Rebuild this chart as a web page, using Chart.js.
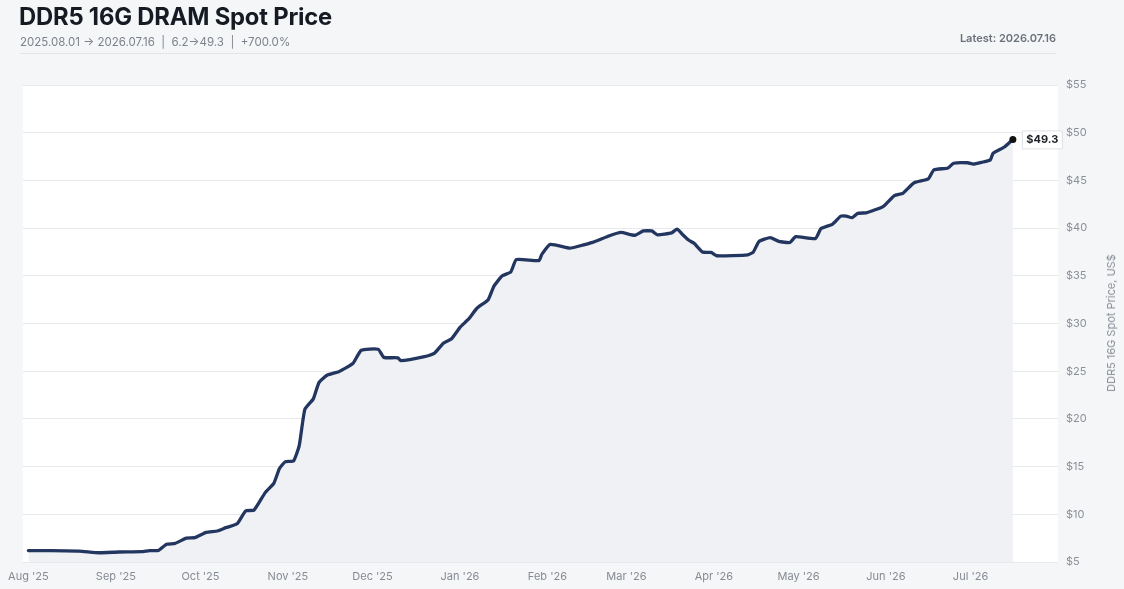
<!DOCTYPE html>
<html><head><meta charset="utf-8">
<script src="https://cdn.jsdelivr.net/npm/chart.js@4.4.1/dist/chart.umd.min.js"></script>
<style>
html,body{margin:0;padding:0;background:#f5f6f8;width:1124px;height:589px;overflow:hidden;font-family:Inter,"Noto Sans",sans-serif;}
#wrap{position:relative;width:1124px;height:589px;}
canvas{position:absolute;left:0;top:0;}
.t{position:absolute;white-space:nowrap;}
#title{left:19px;top:5px;font-size:23.8px;line-height:24px;font-weight:700;color:#151a23;letter-spacing:-0.2px}
#sub{left:20px;top:36px;font-size:11.5px;line-height:12px;color:#7c828b}
#latest{right:68px;top:33px;font-size:11px;line-height:11px;font-weight:600;color:#6b717a}
#sep{position:absolute;left:20px;top:53px;width:1036px;height:1px;background:#e2e4e8}
#ytitle{position:absolute;left:1111px;top:323px;transform:translate(-50%,-50%) rotate(-90deg);font-size:11px;color:#8a8f97}
</style>
</head>
<body>
<div id="wrap">
<canvas id="c" width="1124" height="589"></canvas>
<div class="t" id="title">DDR5 16G DRAM Spot Price</div>
<div class="t" id="sub">2025.08.01 → 2026.07.16 &nbsp;|&nbsp; 6.2→49.3 &nbsp;|&nbsp; +700.0%</div>
<div class="t" id="latest">Latest: 2026.07.16</div>
<div id="sep"></div>
<div class="t" id="ytitle">DDR5 16G Spot Price, US$</div>
</div>
<script>
// days since 2025-08-01
const days = [0,8,18,25,32,40,43,46,49,52,56,59,63,67,70,74,77,80,84,87,89,91,94,96,98,101,103,106,110,115,118,124,126,131,132,140,144,147,150,153,156,159,163,165,168,171,173,181,182,185,192,195,200,206,210,215,218,221,223,228,230,232,234,236,239,242,244,255,257,259,263,266,270,272,279,281,285,288,290,292,294,297,299,303,307,310,314,319,321,326,328,333,335,338,341,342,346,349];
// spot price, US$
const prices = [6.2,6.2,6.15,5.97,6.05,6.08,6.2,6.2,6.85,6.95,7.5,7.55,8.1,8.25,8.6,9.0,10.35,10.45,12.3,13.25,14.8,15.5,15.6,17.2,21.0,22.1,23.8,24.6,24.95,25.8,27.2,27.3,26.45,26.4,26.1,26.5,26.9,27.9,28.4,29.6,30.45,31.6,32.5,33.9,35.0,35.4,36.7,36.6,37.25,38.3,37.9,38.1,38.5,39.2,39.55,39.25,39.7,39.7,39.3,39.5,39.9,39.3,38.75,38.4,37.5,37.45,37.1,37.2,37.5,38.6,39.0,38.6,38.5,39.1,38.9,39.95,40.4,41.25,41.25,41.1,41.55,41.6,41.8,42.25,43.4,43.65,44.75,45.15,46.1,46.3,46.8,46.85,46.7,46.9,47.15,47.85,48.5,49.3];
// month tick positions (days since 2025-08-01) and labels
const monthTicks = [0,31,61,92,122,153,184,212,243,273,304,334];
const monthLabels = ["Aug '25","Sep '25","Oct '25","Nov '25","Dec '25","Jan '26","Feb '26","Mar '26","Apr '26","May '26","Jun '26","Jul '26"];
const yTicks = [5,10,15,20,25,30,35,40,45,50,55];

const points = days.map((d,i)=>({x:d,y:prices[i]}));
const last = points.length-1;

const bgPlugin = {
  id:'bg',
  beforeDraw(chart){
    const {ctx, chartArea:a} = chart;
    ctx.save(); ctx.fillStyle='#ffffff';
    ctx.fillRect(a.left,a.top,a.right-a.left,a.bottom-a.top);
    ctx.restore();
  }
};
const endLabel = {
  id:'endLabel',
  afterDatasetsDraw(chart){
    const el = chart.getDatasetMeta(0).data[last];
    const ctx = chart.ctx;
    const txt = '$' + prices[last].toFixed(1);
    ctx.save();
    ctx.font = '700 11px Inter, "Noto Sans", sans-serif';
    const w = ctx.measureText(txt).width + 8;
    const bx = el.x + 9, by = el.y - 9;
    ctx.fillStyle='#ffffff'; ctx.strokeStyle='#dde0e5'; ctx.lineWidth=1;
    ctx.beginPath(); ctx.rect(bx+0.5,by+0.5,w,18); ctx.fill(); ctx.stroke();
    ctx.fillStyle='#1b1e24'; ctx.textBaseline='middle'; ctx.textAlign='left';
    ctx.fillText(txt, bx+4.5, el.y+0.5);
    ctx.restore();
  }
};

new Chart(document.getElementById('c'), {
  type:'line',
  data:{datasets:[{
    data:points,
    borderColor:'#23365f',
    borderWidth:3.3,
    borderJoinStyle:'round',
    borderCapStyle:'round',
    tension:0.15,
    fill:'start',
    backgroundColor:'#eff1f5',
    pointRadius:(c)=>c.dataIndex===last?3.5:0,
    pointBackgroundColor:'#111111',
    pointBorderWidth:0,
    pointHoverRadius:0
  }]},
  options:{
    responsive:false, animation:false,
    layout:{padding:{left:18,top:85,right:0,bottom:0}},
    plugins:{legend:{display:false},tooltip:{enabled:false}},
    scales:{
      x:{
        type:'linear', min:-2, max:365,
        afterBuildTicks(s){ s.ticks = monthTicks.map(v=>({value:v})); },
        afterFit(s){ s.height = 27; },
        grid:{display:false, drawTicks:false},
        border:{display:false},
        ticks:{padding:8, maxRotation:0, autoSkip:false, color:'#858a92',
          font:{family:'Inter, "Noto Sans", sans-serif', size:11},
          callback:(v)=>{const i=monthTicks.indexOf(v); return i>=0?monthLabels[i]:'';}}
      },
      y:{
        position:'right', min:5, max:55,
        afterBuildTicks(s){ s.ticks = yTicks.map(v=>({value:v})); },
        afterFit(s){ s.width = 66; },
        grid:{color:'#e7e9ed', drawTicks:false, lineWidth:1},
        border:{display:false},
        ticks:{padding:8, color:'#8a8f97',
          font:{family:'Inter, "Noto Sans", sans-serif', size:11},
          callback:(v)=>'$'+v}
      }
    }
  },
  plugins:[bgPlugin, endLabel]
});
</script>
</body></html>
